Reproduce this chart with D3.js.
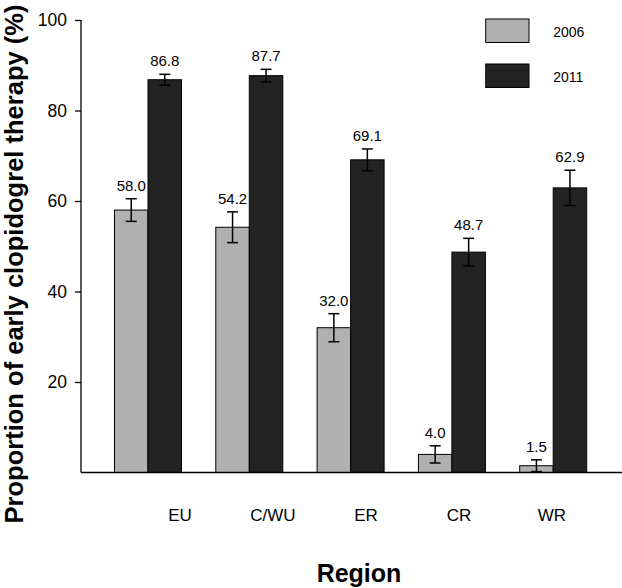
<!DOCTYPE html>
<html>
<head>
<meta charset="utf-8">
<script src="https://cdn.jsdelivr.net/npm/d3@7"></script>
<style>
  html, body { margin: 0; padding: 0; background: #fff; }
  svg { display: block; font-family: "Liberation Sans", Arial, sans-serif; }
</style>
</head>
<body>
<svg id="chart" width="622" height="588"></svg>
<script>
const regions = ["EU", "C/WU", "ER", "CR", "WR"];
const years = ["2006", "2011"];
const values2006 = [58.0, 54.2, 32.0, 4.0, 1.5];
const values2011 = [86.8, 87.7, 69.1, 48.7, 62.9];
const errors2006 = [2.5, 3.4, 3.1, 1.9, 1.3];
const errors2011 = [1.2, 1.4, 2.4, 3.05, 3.9];
const yTicks = [20, 40, 60, 80, 100];
const colors = { "2006": "#b0b0b0", "2011": "#232323" };

const svg = d3.select("#chart");

const y = d3.scaleLinear().domain([0, 100]).range([472.5, 20]);
const pInner = 1 - 67 / 101.3;
const x0 = d3.scaleBand().domain(regions).range([97.35, 603.85])
  .paddingInner(pInner).paddingOuter(pInner / 2);
const x1 = d3.scaleBand().domain(years).range([0, x0.bandwidth()]);
const labelX = d3.scalePoint().domain(regions).range([180, 552]);

const data = regions.map((r, i) => ({
  region: r,
  bars: [
    { year: "2006", value: values2006[i], err: errors2006[i] },
    { year: "2011", value: values2011[i], err: errors2011[i] }
  ]
}));

// Bars
const groups = svg.append("g").selectAll("g").data(data).join("g")
  .attr("transform", d => `translate(${x0(d.region)},0)`);

groups.selectAll("rect").data(d => d.bars).join("rect")
  .attr("x", d => x1(d.year))
  .attr("y", d => y(d.value))
  .attr("width", x1.bandwidth())
  .attr("height", d => y(0) - y(d.value))
  .attr("fill", d => colors[d.year])
  .attr("stroke", "#000")
  .attr("stroke-width", 1);

// Error bars
const cap = 5.5;
const eb = groups.selectAll("g.err").data(d => d.bars).join("g").attr("class", "err");
eb.append("line")
  .attr("x1", d => x1(d.year) + x1.bandwidth() / 2)
  .attr("x2", d => x1(d.year) + x1.bandwidth() / 2)
  .attr("y1", d => y(d.value + d.err))
  .attr("y2", d => y(Math.max(0, d.value - d.err)))
  .attr("stroke", "#000").attr("stroke-width", 1.5);
eb.append("line")
  .attr("x1", d => x1(d.year) + x1.bandwidth() / 2 - cap)
  .attr("x2", d => x1(d.year) + x1.bandwidth() / 2 + cap)
  .attr("y1", d => y(d.value + d.err))
  .attr("y2", d => y(d.value + d.err))
  .attr("stroke", "#000").attr("stroke-width", 1.5);
eb.filter(d => d.value - d.err > 0).append("line")
  .attr("x1", d => x1(d.year) + x1.bandwidth() / 2 - cap)
  .attr("x2", d => x1(d.year) + x1.bandwidth() / 2 + cap)
  .attr("y1", d => y(d.value - d.err))
  .attr("y2", d => y(d.value - d.err))
  .attr("stroke", "#000").attr("stroke-width", 1.5);

// Value labels
groups.selectAll("text.val").data(d => d.bars).join("text")
  .attr("class", "val")
  .attr("x", d => x1(d.year) + x1.bandwidth() / 2)
  .attr("y", d => y(d.value + d.err) - 8)
  .attr("text-anchor", "middle")
  .attr("font-size", 15)
  .attr("fill", "#000")
  .text(d => d.value.toFixed(1));

// Y axis
const yAxis = svg.append("g").attr("transform", "translate(81,0)")
  .call(d3.axisLeft(y).tickValues(yTicks).tickSize(6).tickSizeOuter(0).tickPadding(8));
yAxis.select(".domain").attr("d", `M0,${y(0)}V${y(100)}`).attr("stroke-width", 1.3);
yAxis.selectAll(".tick line").attr("stroke-width", 1.3);
yAxis.selectAll(".tick text").attr("font-size", 17.5).attr("font-family", "Liberation Sans, Arial, sans-serif").attr("fill", "#000");

// X axis line
svg.append("line")
  .attr("x1", 81).attr("x2", 622)
  .attr("y1", y(0)).attr("y2", y(0))
  .attr("stroke", "#000").attr("stroke-width", 1.3);

// Category labels
svg.append("g").selectAll("text").data(regions).join("text")
  .attr("x", d => labelX(d))
  .attr("y", 520.5)
  .attr("text-anchor", "middle")
  .attr("font-size", 17)
  .text(d => d);

// Axis titles
svg.append("text")
  .attr("x", 359).attr("y", 581.5)
  .attr("text-anchor", "middle")
  .attr("font-size", 25).attr("font-weight", "bold")
  .text("Region");

const yt = svg.append("text")
  .attr("transform", "translate(23,264) rotate(-90)")
  .attr("text-anchor", "middle")
  .attr("font-size", 24).attr("font-weight", "bold")
  .text("Proportion of early clopidogrel therapy (%)");
const len = yt.node().getComputedTextLength();
yt.attr("font-size", 24 * 519 / len);

// Legend
const legend = svg.append("g").selectAll("g").data(years).join("g")
  .attr("transform", (d, i) => `translate(485.7,${19 + i * 45})`);
legend.append("rect")
  .attr("width", 43.3).attr("height", 23.5)
  .attr("fill", d => colors[d])
  .attr("stroke", "#000").attr("stroke-width", 1);
legend.append("text")
  .attr("x", 67.5).attr("y", 17.5)
  .attr("font-size", 14)
  .text(d => d);
</script>
</body>
</html>
